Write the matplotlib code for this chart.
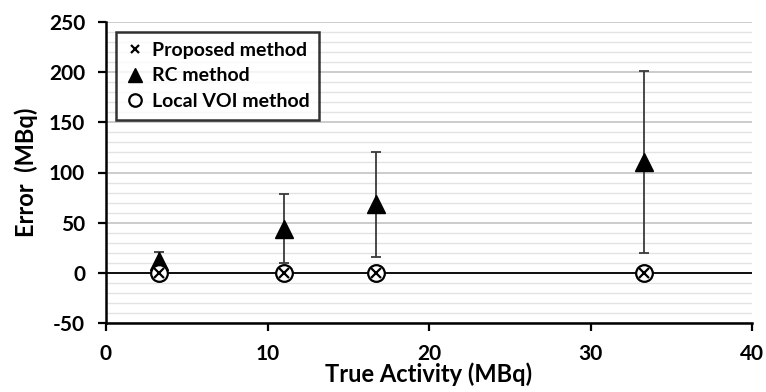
import matplotlib
matplotlib.use("Agg")
import matplotlib.pyplot as plt
from matplotlib.ticker import MultipleLocator

true_activity = [3.3, 11.0, 16.7, 33.3]
rc_error = [12, 44, 69, 110]
rc_upper = [21, 79, 120, 201]
rc_lower = [3, 10, 16, 20]
proposed_error = [0, 0, 0, 0]
local_voi_error = [0, 0, 0, 0]

plt.rcParams['font.family'] = ['Lato', 'DejaVu Sans']
plt.rcParams['font.weight'] = 'bold'
plt.rcParams['axes.unicode_minus'] = False

fig = plt.figure(figsize=(7.66, 3.92), dpi=100)
ax = fig.add_axes([106/766, 1-323/392, (752-106)/766, (323-22)/392])

ax.set_xlim(0, 40)
ax.set_ylim(-50, 250)
ax.yaxis.set_major_locator(MultipleLocator(50))
ax.yaxis.set_minor_locator(MultipleLocator(10))
ax.xaxis.set_major_locator(MultipleLocator(10))
ax.grid(axis='y', which='minor', color='#e3e3e3', lw=1.0)
ax.grid(axis='y', which='major', color='#c8c8c8', lw=1.3)
ax.set_axisbelow(True)
ax.axhline(0, color='black', lw=1.3, zorder=2)

yerr = [[r - l for r, l in zip(rc_error, rc_lower)], [u - r for r, u in zip(rc_error, rc_upper)]]
ax.errorbar(true_activity, rc_error, yerr=yerr, fmt='none', ecolor='#3a3a3a', elinewidth=1.3, capsize=3.4, capthick=1.3, zorder=3)
ax.plot(true_activity, rc_error, linestyle='none', marker='^', ms=13, color='black', zorder=4, label='RC method')
ax.plot(true_activity, local_voi_error, linestyle='none', marker='o', ms=12, mfc='white', mec='black', mew=1.6, zorder=5, label='Local VOI method')
ax.plot(true_activity, proposed_error, linestyle='none', marker='x', ms=7.5, color='black', mew=1.6, zorder=6, label='Proposed method')

for s in ['top', 'right']:
    ax.spines[s].set_visible(False)
for s in ['left', 'bottom']:
    ax.spines[s].set_linewidth(1.8)
ax.tick_params(axis='both', which='major', length=6, width=1.6, labelsize=15, direction='out')
ax.tick_params(axis='x', which='major', pad=9)
ax.tick_params(axis='y', which='major', pad=9)
ax.tick_params(axis='y', which='minor', length=0)
for lab in ax.get_xticklabels() + ax.get_yticklabels():
    lab.set_fontweight('bold')

ax.set_xlabel('True Activity (MBq)', fontsize=17, fontweight='bold', labelpad=-1)
ax.set_ylabel('Error  (MBq)', fontsize=17, fontweight='bold', labelpad=8)

h, l = ax.get_legend_handles_labels()
order = [2, 0, 1]
leg = ax.legend([h[i] for i in order], [l[i] for i in order], loc='upper left',
                bbox_to_anchor=(10/646, 1 - 10/301), borderaxespad=0,
                frameon=True, fancybox=False,
                edgecolor='black', handlelength=1.0, handletextpad=0.35,
                borderpad=0.5, labelspacing=0.45, markerscale=0.75,
                prop={'weight': 'bold', 'size': 14})
leg.get_frame().set_linewidth(1.8)

fig.savefig('out.png', dpi=100)
